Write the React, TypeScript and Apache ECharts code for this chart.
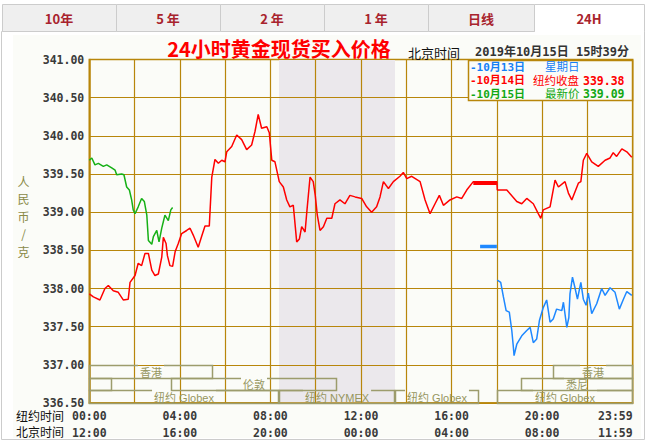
import React, { useEffect, useRef } from 'react';
import * as echarts from 'echarts';

// ---------------- data ----------------
const tabLabels = ['10年', '5 年', '2 年', '1 年', '日线', '24H'];
const yMin = 336.5;
const yMax = 341;
const yStep = 0.5;
const tickHours = [0, 4, 8, 12, 16, 20, 24];
const nyTickLabels = ['00:00', '04:00', '08:00', '12:00', '16:00', '20:00', '23:59'];
const bjTickLabels = ['12:00', '16:00', '20:00', '00:00', '04:00', '08:00', '11:59'];
const yAxisNameChars = ['人', '民', '币', '/', '克'];

// 10月14日 (red) – hours in New York time, price RMB/g
const redSeries: [number, number][] = [
  [0.00, 337.93], [0.18, 337.89], [0.47, 337.85], [0.69, 338.00], [0.84, 338.04], [1.06, 337.97],
  [1.28, 337.95], [1.50, 337.85], [1.72, 337.86], [1.80, 338.08], [2.02, 338.17], [2.16, 338.33],
  [2.31, 338.30], [2.46, 338.46], [2.61, 338.46], [2.76, 338.24], [2.90, 338.17], [3.05, 338.19],
  [3.20, 338.41], [3.27, 338.67], [3.39, 338.59], [3.45, 338.43], [3.56, 338.30], [3.68, 338.29],
  [3.79, 338.48], [3.93, 338.59], [4.08, 338.72], [4.30, 338.76], [4.45, 338.79], [4.59, 338.70],
  [4.81, 338.54], [4.96, 338.68], [5.11, 338.82], [5.30, 338.82], [5.41, 339.46], [5.55, 339.69],
  [5.70, 339.64], [5.85, 339.68], [5.99, 339.66], [6.07, 339.79], [6.29, 339.86], [6.51, 340.01],
  [6.73, 339.95], [6.95, 339.82], [7.17, 339.88], [7.32, 340.06], [7.46, 340.28], [7.61, 340.10],
  [7.84, 340.12], [7.95, 340.04], [8.06, 339.68], [8.20, 339.66], [8.39, 339.40], [8.57, 339.33],
  [8.72, 339.16], [8.86, 339.07], [9.01, 339.09], [9.16, 338.61], [9.28, 338.65], [9.38, 338.81],
  [9.53, 338.74], [9.60, 338.98], [9.75, 339.46], [9.89, 339.40], [9.98, 339.22], [10.07, 338.96],
  [10.19, 338.76], [10.34, 338.81], [10.49, 338.92], [10.71, 338.92], [10.85, 339.11], [11.07, 339.16],
  [11.29, 339.11], [11.51, 339.22], [11.74, 339.20], [12.03, 339.18], [12.25, 339.07], [12.47, 339.00],
  [12.69, 339.07], [12.84, 339.20], [12.99, 339.40], [13.21, 339.31], [13.43, 339.40], [13.72, 339.47],
  [13.87, 339.52], [14.02, 339.44], [14.24, 339.47], [14.61, 339.40], [14.83, 339.16], [15.05, 338.98],
  [15.27, 339.11], [15.46, 339.22], [15.64, 339.09], [15.93, 339.16], [16.23, 339.20], [16.45, 339.18],
  [16.67, 339.29], [16.96, 339.40], [18.00, 339.40], [18.02, 339.29], [18.44, 339.29], [18.88, 339.14],
  [19.10, 339.11], [19.32, 339.18], [19.61, 339.11], [19.83, 338.98], [19.94, 338.92], [20.05, 339.03],
  [20.35, 339.07], [20.57, 339.42], [20.72, 339.33], [21.01, 339.40], [21.16, 339.25], [21.31, 339.16],
  [21.60, 339.38], [21.71, 339.40], [21.82, 339.68], [21.97, 339.77], [22.19, 339.66], [22.48, 339.60],
  [22.78, 339.68], [23.00, 339.71], [23.14, 339.78], [23.29, 339.73], [23.52, 339.83], [23.74, 339.79],
  [23.96, 339.72],
];
// 纽约收盘 flat segment
const nyCloseSeries: [number, number][] = [[16.96, 339.38], [18.0, 339.38]];

// 10月15日 (green) – latest
const greenSeries: [number, number][] = [
  [0.00, 339.68], [0.11, 339.71], [0.25, 339.62], [0.40, 339.64], [0.62, 339.60], [0.77, 339.62],
  [0.99, 339.58], [1.14, 339.55], [1.21, 339.49], [1.43, 339.50], [1.53, 339.49], [1.65, 339.33],
  [1.77, 339.29], [1.87, 339.16], [1.94, 339.03], [2.02, 338.98], [2.16, 339.07], [2.31, 339.18],
  [2.43, 339.14], [2.54, 338.96], [2.61, 338.63], [2.76, 338.58], [2.83, 338.68], [2.98, 338.76],
  [3.08, 338.61], [3.20, 338.79], [3.34, 338.96], [3.49, 338.89], [3.60, 339.03], [3.68, 339.06],
];

// 10月13日 (blue)
const blueDashSeries: [number, number][] = [[17.26, 338.55], [18.0, 338.55]];
const blueSeries: [number, number][] = [
  [18.02, 338.11], [18.17, 338.08], [18.29, 337.89], [18.41, 337.71], [18.55, 337.69], [18.66, 337.45],
  [18.73, 337.23], [18.76, 337.12], [18.88, 337.27], [19.10, 337.38], [19.32, 337.45], [19.47, 337.49],
  [19.61, 337.29], [19.76, 337.34], [19.88, 337.58], [20.05, 337.75], [20.20, 337.85], [20.35, 337.56],
  [20.49, 337.60], [20.64, 337.73], [20.87, 337.71], [20.94, 337.82], [21.09, 337.49], [21.18, 337.62],
  [21.23, 337.93], [21.34, 338.15], [21.45, 338.01], [21.56, 337.86], [21.71, 338.08], [21.82, 337.86],
  [21.94, 337.78], [22.04, 337.94], [22.19, 337.67], [22.41, 337.80], [22.63, 338.00], [22.78, 337.91],
  [23.00, 338.01], [23.22, 337.95], [23.41, 337.73], [23.59, 337.86], [23.74, 337.96], [23.96, 337.91],
];

// NYMEX trading span (hours NY)
const nymexSpan = [8.38, 13.5];

// market sessions
const sessionNames = ['香港', '', '伦敦', '纽约 Globex', '纽约 NYMEX', '纽约 Globex', '悉尼', '香港', '纽约 Globex'];
const sessionStart = [0, 0, 3.62, 0, 8.38, 13.5, 19.05, 20.5, 18.0];
const sessionEnd = [5.48, 1.0, 10.95, 8.38, 13.5, 17.22, 24, 24, 24];
const sessionRow = [0, 1, 1, 2, 2, 2, 1, 0, 2];

const legendDates = ['-10月13日', '-10月14日', '-10月15日'];
const legendLabels = ['星期日', '纽约收盘', '最新价'];
const legendValues = ['', '339.38', '339.09'];

// ---------------- styles ----------------
const GOLD = '#b8860b';
const OLIVE = '#9c9c6c';
const BG = '#fbfcf8';
const RED = '#ff0000';
const GREEN = '#16b016';
const BLUE = '#1e88ff';
const legendColors = ['#1580f5', RED, '#13a813'];
const MONO = '"DejaVu Sans Mono", "Noto Sans CJK SC", monospace';
const CJK = '"Noto Sans CJK SC", sans-serif';
const SANS = '"Liberation Sans", "Noto Sans CJK SC", sans-serif';

let measureCtx: CanvasRenderingContext2D | null = null;
function textWidth(s: string, font: string) {
  if (!measureCtx) measureCtx = document.createElement('canvas').getContext('2d');
  if (!measureCtx) return s.length * 8;
  measureCtx.font = font;
  return measureCtx.measureText(s).width;
}

const ROW_H = (337 - yMin) / 3;
const sessionData = sessionNames.map((_, i) => {
  const top = 337 - sessionRow[i] * ROW_H;
  return [sessionStart[i], sessionEnd[i], top, top - ROW_H, i];
});

function buildGraphic() {
  const els: any[] = [];
  const tabEdges = [2, 116, 220, 324, 428, 534, 644];
  // panel background & border
  els.push({
    type: 'rect', z: -10, silent: true,
    shape: { x: 1.5, y: 31.5, width: 643, height: 408 },
    style: { fill: '#ffffff', stroke: '#cccccc', lineWidth: 1 },
  });
  els.push({
    type: 'rect', z: -9, silent: true,
    shape: { x: 13, y: 35, width: 628, height: 403 },
    style: { fill: BG },
  });
  tabLabels.forEach((t, i) => {
    const x0 = tabEdges[i];
    const x1 = tabEdges[i + 1];
    const selected = i === tabLabels.length - 1;
    els.push({
      type: 'rect', z: -8, silent: true,
      shape: { x: x0 + 0.5, y: 4.5, width: x1 - x0, height: 27 },
      style: { fill: selected ? '#ffffff' : '#efefef', stroke: '#cccccc', lineWidth: 1 },
    });
    if (selected) {
      els.push({
        type: 'line', z: -7, silent: true,
        shape: { x1: x0 + 1, y1: 31.5, x2: x1, y2: 31.5 },
        style: { stroke: '#ffffff', lineWidth: 1.5 },
      });
    }
    els.push({
      type: 'text', z: -6, silent: true,
      style: {
        text: t, x: (x0 + x1) / 2, y: 18.5, align: 'center', verticalAlign: 'middle',
        fontFamily: CJK, fontSize: 13, fontWeight: 'bold', fill: '#a8232d',
      },
    });
  });
  // title
  els.push({
    type: 'text', z: 10, silent: true,
    style: {
      text: '24小时黄金现货买入价格', x: 279, y: 48.5, align: 'center', verticalAlign: 'middle',
      fontFamily: CJK, fontSize: 20, fontWeight: 'bold', fill: RED,
    },
  });
  els.push({
    type: 'text', z: 10, silent: true,
    style: {
      text: '北京时间', x: 408, y: 52, align: 'left', verticalAlign: 'middle',
      fontFamily: CJK, fontSize: 13, fill: '#111111',
    },
  });
  els.push({
    type: 'text', z: 10, silent: true,
    style: {
      text: '2019年10月15日 15时39分', x: 475, y: 52, align: 'left', verticalAlign: 'middle',
      fontFamily: MONO, fontSize: 12, fontWeight: 'bold', fill: '#333333',
    },
  });
  // y axis name, one character per line
  yAxisNameChars.forEach((ch, i) => {
    els.push({
      type: 'text', z: 10, silent: true,
      style: {
        text: ch, x: 23.5, y: 181 + i * 17.6, align: 'center', verticalAlign: 'middle',
        fontFamily: CJK, fontSize: 12, lineHeight: 13, fill: '#8a8a48',
      },
    });
  });
  // bottom row names
  els.push({
    type: 'text', z: 10, silent: true,
    style: { text: '纽约时间', x: 16, y: 416.5, align: 'left', verticalAlign: 'middle', fontFamily: SANS, fontSize: 12, fill: '#111111' },
  });
  els.push({
    type: 'text', z: 10, silent: true,
    style: { text: '北京时间', x: 16, y: 433, align: 'left', verticalAlign: 'middle', fontFamily: SANS, fontSize: 12, fill: '#111111' },
  });
  // legend box
  els.push({
    type: 'rect', z: 100, silent: true,
    shape: { x: 468.5, y: 60.5, width: 164, height: 40 },
    style: { fill: BG, stroke: GOLD, lineWidth: 1.5 },
  });
  const rowY = [67, 80.5, 94];
  const labelX = [545, 533, 545];
  legendDates.forEach((d, i) => {
    els.push({
      type: 'text', z: 101, silent: true,
      style: { text: d, x: 470, y: rowY[i], align: 'left', verticalAlign: 'middle', fontFamily: MONO, fontSize: 11, fontWeight: 'bold', fill: legendColors[i] },
    });
    els.push({
      type: 'text', z: 101, silent: true,
      style: { text: legendLabels[i], x: labelX[i], y: rowY[i], align: 'left', verticalAlign: 'middle', fontFamily: SANS, fontSize: 11.5, fill: legendColors[i] },
    });
    if (legendValues[i]) {
      els.push({
        type: 'text', z: 101, silent: true,
        style: { text: legendValues[i], x: 583, y: rowY[i], align: 'left', verticalAlign: 'middle', fontFamily: MONO, fontSize: 11.5, fontWeight: 'bold', fill: legendColors[i] },
      });
    }
  });
  return els;
}

const SESSION_FONT = `11px ${SANS}`;

function buildOption(): any {
  const lineBase = {
    type: 'line', showSymbol: false, symbol: 'none', silent: true, z: 5,
  };
  return {
    animation: false,
    backgroundColor: 'transparent',
    graphic: buildGraphic(),
    grid: {
      left: 89.3, right: 14.3, top: 59.5, bottom: 38,
      show: true, backgroundColor: BG, borderColor: GOLD, borderWidth: 1.5,
    },
    xAxis: {
      type: 'value', min: 0, max: 24, interval: 2, z: 3,
      axisLine: { show: true, lineStyle: { color: GOLD, width: 1.5 } },
      axisTick: { show: false },
      splitLine: { show: true, lineStyle: { color: GOLD, width: 1.2 } },
      axisLabel: {
        show: true, showMinLabel: true, showMaxLabel: true, hideOverlap: false,
        alignMaxLabel: 'right',
        margin: 4,
        fontFamily: MONO, fontSize: 11.5, fontWeight: 'bold', color: '#3a3a3a', lineHeight: 17,
        formatter: (v: number) => {
          const idx = tickHours.indexOf(Math.round(v));
          if (idx < 0) return '';
          return nyTickLabels[idx] + '\n' + bjTickLabels[idx];
        },
      },
    },
    yAxis: {
      type: 'value', min: yMin, max: yMax, interval: yStep, z: 3,
      axisLine: { show: true, lineStyle: { color: GOLD, width: 1.5 } },
      axisTick: { show: false },
      splitLine: { show: true, lineStyle: { color: GOLD, width: 1.2 } },
      axisLabel: {
        margin: 5, fontFamily: MONO, fontSize: 11.5, fontWeight: 'bold', color: '#3a3a3a',
        formatter: (v: number) => v.toFixed(2),
      },
    },
    series: [
      {
        type: 'line', data: [[nymexSpan[0], yMin]], showSymbol: false, symbol: 'none', silent: true, z: 1,
        lineStyle: { opacity: 0 },
        markArea: {
          silent: true,
          itemStyle: { color: '#ebe8ec' },
          data: [[{ xAxis: nymexSpan[0] }, { xAxis: nymexSpan[1] }]],
        },
      },
      { ...lineBase, name: '10月14日', data: redSeries, lineStyle: { color: RED, width: 1.5 } },
      { ...lineBase, name: '纽约收盘', data: nyCloseSeries, lineStyle: { color: RED, width: 3.5 } },
      { ...lineBase, name: '10月15日', data: greenSeries, lineStyle: { color: GREEN, width: 1.5 } },
      { ...lineBase, name: '10月13日', data: blueSeries, lineStyle: { color: BLUE, width: 1.5 } },
      { ...lineBase, name: '10月13日收盘', data: blueDashSeries, lineStyle: { color: BLUE, width: 3.5 } },
      {
        type: 'custom', name: 'sessions', silent: true, z: 6, clip: false,
        coordinateSystem: 'cartesian2d',
        encode: { x: [0, 1], y: [2, 3] },
        data: sessionData,
        renderItem: (_params: any, api: any) => {
          const i = api.value(4) as number;
          const p0 = api.coord([api.value(0), api.value(2)]);
          const p1 = api.coord([api.value(1), api.value(3)]);
          const x0 = Math.round(p0[0]) + 0.5;
          const y0 = Math.round(p0[1]) + 0.5;
          const x1 = Math.round(p1[0]) - 0.5;
          const y1 = Math.round(p1[1]) + 0.5;
          const name = sessionNames[i];
          const cx = (x0 + x1) / 2;
          const children: any[] = [];
          if (name) {
            const w = textWidth(name, SESSION_FONT);
            children.push({
              type: 'polyline',
              shape: { points: [[cx - w / 2 - 2, y0], [x0, y0], [x0, y1], [x1, y1], [x1, y0], [cx + w / 2 + 2, y0]] },
              style: { stroke: OLIVE, fill: 'none', lineWidth: 1.5 },
            });
            children.push({
              type: 'text',
              style: {
                text: name, x: cx, y: (y0 + y1) / 2 + 0.5, align: 'center', verticalAlign: 'middle',
                fontFamily: SANS, fontSize: 11, fill: '#96965e',
              },
            });
          } else {
            children.push({
              type: 'polyline',
              shape: { points: [[x0, y0], [x0, y1], [x1, y1], [x1, y0], [x0, y0]] },
              style: { stroke: OLIVE, fill: 'none', lineWidth: 1.5 },
            });
          }
          return { type: 'group', children };
        },
      },
    ],
  };
}

export default function App() {
  const ref = useRef<HTMLDivElement>(null);
  useEffect(() => {
    document.body.style.margin = '0';
    if (!ref.current) return;
    const chart = echarts.init(ref.current, null, { renderer: 'svg' });
    chart.setOption(buildOption());
    return () => chart.dispose();
  }, []);
  return <div ref={ref} style={{ width: 647, height: 441, background: '#ffffff' }} />;
}
